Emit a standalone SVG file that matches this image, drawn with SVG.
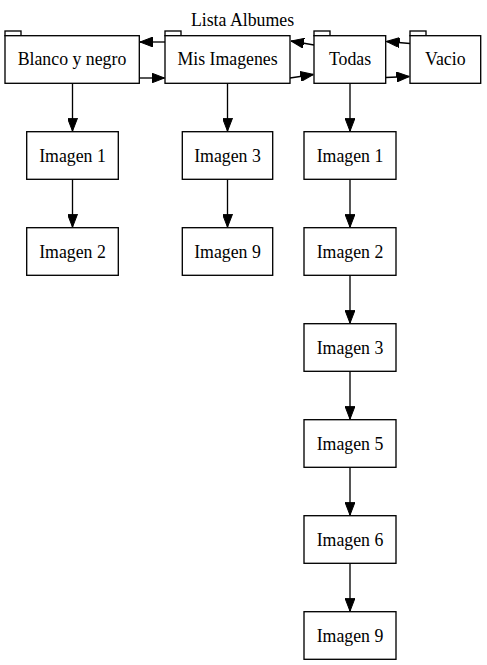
<svg xmlns="http://www.w3.org/2000/svg" width="487" height="665" viewBox="0 0 487 665">
<style>
.box{fill:#fff;stroke:#000;stroke-width:1.33}
.tab{fill:#fff;stroke:#000;stroke-width:1.33}
.lbl{font-family:"Liberation Serif","Times New Roman",serif;font-size:17.8px;fill:#000;text-anchor:middle}
.e{fill:none;stroke:#000;stroke-width:1.33;marker-end:url(#ah)}
</style>
<defs>
<marker id="ah" markerUnits="userSpaceOnUse" viewBox="0 0 13 10" refX="13" refY="5" markerWidth="13" markerHeight="10" orient="auto">
<path d="M0,0 L13,5 L0,10 z" fill="#000" stroke="#000" stroke-width="1"/>
</marker>
</defs>
<rect width="487" height="665" fill="#fff"/>
<text class="lbl" x="242.5" y="26">Lista Albumes</text>
<g id="connectors">
<path class="e" d="M165,42 L140,42"/>
<path class="e" d="M139.3,78 L164.5,78"/>
<path class="e" d="M314,45 L291,41"/>
<path class="e" d="M290,78 L313.5,74.5"/>
<path class="e" d="M410,43.5 L386.5,41.5"/>
<path class="e" d="M385.7,77.5 L409.5,76.5"/>
<path class="e" d="M72.5,83.3 L72.5,131.2"/>
<path class="e" d="M72.5,179.3 L72.5,227.2"/>
<path class="e" d="M227.5,83.3 L227.5,131.2"/>
<path class="e" d="M227.5,179.3 L227.5,227.2"/>
<path class="e" d="M350,83.3 L350,131.2"/>
<path class="e" d="M350,179.3 L350,227.2"/>
<path class="e" d="M350,275.3 L350,323.2"/>
<path class="e" d="M350,371.3 L350,419.2"/>
<path class="e" d="M350,467.3 L350,515.2"/>
<path class="e" d="M350,563.3 L350,611.2"/>
</g>
<g id="blanco">
<rect class="tab" x="5" y="31" width="16" height="4.7"/>
<rect class="box" x="5" y="35.7" width="134.3" height="47.6"/>
<text class="lbl" x="72" y="65">Blanco y negro</text>
</g>
<g id="mis">
<rect class="tab" x="165" y="31" width="16" height="4.7"/>
<rect class="box" x="165" y="35.7" width="125" height="47.6"/>
<text class="lbl" x="227.5" y="65">Mis Imagenes</text>
</g>
<g id="todas">
<rect class="tab" x="314" y="31" width="16" height="4.7"/>
<rect class="box" x="314" y="35.7" width="71.7" height="47.6"/>
<text class="lbl" x="350" y="65">Todas</text>
</g>
<g id="vacio">
<rect class="tab" x="410" y="31" width="16" height="4.7"/>
<rect class="box" x="410" y="35.7" width="70.7" height="47.6"/>
<text class="lbl" x="445.3" y="65">Vacio</text>
</g>
<g id="bn_img1">
<rect class="box" x="26.7" y="131.7" width="91.6" height="47.6"/>
<text class="lbl" x="72.5" y="161.7">Imagen 1</text>
</g>
<g id="bn_img2">
<rect class="box" x="26.7" y="227.7" width="91.6" height="47.6"/>
<text class="lbl" x="72.5" y="257.7">Imagen 2</text>
</g>
<g id="mis_img3">
<rect class="box" x="182.3" y="131.7" width="90.4" height="47.6"/>
<text class="lbl" x="227.5" y="161.7">Imagen 3</text>
</g>
<g id="mis_img9">
<rect class="box" x="182.3" y="227.7" width="90.4" height="47.6"/>
<text class="lbl" x="227.5" y="257.7">Imagen 9</text>
</g>
<g id="t_img1">
<rect class="box" x="304" y="131.7" width="92" height="47.6"/>
<text class="lbl" x="350" y="161.7">Imagen 1</text>
</g>
<g id="t_img2">
<rect class="box" x="304" y="227.7" width="92" height="47.6"/>
<text class="lbl" x="350" y="257.7">Imagen 2</text>
</g>
<g id="t_img3">
<rect class="box" x="304" y="323.7" width="92" height="47.6"/>
<text class="lbl" x="350" y="353.7">Imagen 3</text>
</g>
<g id="t_img5">
<rect class="box" x="304" y="419.7" width="92" height="47.6"/>
<text class="lbl" x="350" y="449.7">Imagen 5</text>
</g>
<g id="t_img6">
<rect class="box" x="304" y="515.7" width="92" height="47.6"/>
<text class="lbl" x="350" y="545.7">Imagen 6</text>
</g>
<g id="t_img9">
<rect class="box" x="304" y="611.7" width="92" height="47.6"/>
<text class="lbl" x="350" y="641.7">Imagen 9</text>
</g>
</svg>
